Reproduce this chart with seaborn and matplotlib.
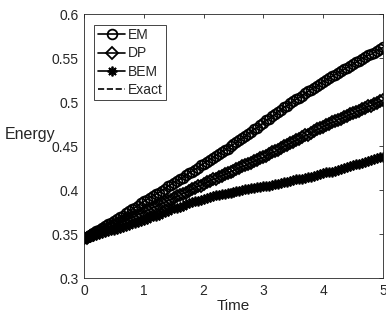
import numpy as np
import pandas as pd
import matplotlib
matplotlib.use("Agg")
import matplotlib.pyplot as plt
import seaborn as sns

# time grid (dt = 0.05)
time = [round(0.05 * i, 2) for i in range(101)]

em_energy = [
    0.345, 0.347, 0.349, 0.351, 0.353, 0.355, 0.357, 0.359, 0.361, 0.363, 0.365,
    0.367, 0.369, 0.371, 0.374, 0.376, 0.378, 0.380, 0.382, 0.385, 0.387,
    0.389, 0.391, 0.393, 0.395, 0.397, 0.399, 0.401, 0.404, 0.406, 0.408,
    0.410, 0.412, 0.414, 0.417, 0.419, 0.421, 0.423, 0.425, 0.428, 0.430,
    0.432, 0.434, 0.436, 0.439, 0.441, 0.443, 0.445, 0.447, 0.450, 0.452,
    0.454, 0.457, 0.459, 0.461, 0.464, 0.466, 0.469, 0.471, 0.474, 0.476,
    0.479, 0.481, 0.484, 0.486, 0.489, 0.491, 0.494, 0.496, 0.499, 0.501,
    0.503, 0.505, 0.507, 0.510, 0.512, 0.514, 0.516, 0.518, 0.521, 0.523,
    0.525, 0.527, 0.529, 0.531, 0.533, 0.535, 0.537, 0.539, 0.541, 0.543,
    0.545, 0.547, 0.549, 0.551, 0.553, 0.554, 0.556, 0.558, 0.560, 0.562,
]

dp_energy = [
    0.345, 0.346, 0.348, 0.349, 0.351, 0.352, 0.354, 0.355, 0.357, 0.358, 0.360,
    0.361, 0.363, 0.364, 0.366, 0.367, 0.369, 0.370, 0.372, 0.373, 0.375,
    0.377, 0.378, 0.380, 0.381, 0.383, 0.385, 0.386, 0.388, 0.389, 0.391,
    0.393, 0.394, 0.396, 0.397, 0.399, 0.401, 0.402, 0.404, 0.405, 0.407,
    0.409, 0.410, 0.412, 0.413, 0.415, 0.416, 0.418, 0.419, 0.421, 0.422,
    0.424, 0.425, 0.427, 0.428, 0.430, 0.431, 0.433, 0.434, 0.436, 0.437,
    0.439, 0.441, 0.443, 0.444, 0.446, 0.448, 0.450, 0.451, 0.453, 0.455,
    0.457, 0.458, 0.460, 0.462, 0.463, 0.465, 0.467, 0.469, 0.470, 0.472,
    0.474, 0.475, 0.477, 0.478, 0.480, 0.481, 0.483, 0.484, 0.486, 0.487,
    0.489, 0.490, 0.492, 0.493, 0.495, 0.496, 0.498, 0.499, 0.501, 0.502,
]

bem_energy = [
    0.345, 0.346, 0.347, 0.348, 0.349, 0.350, 0.351, 0.352, 0.353, 0.354, 0.355,
    0.356, 0.357, 0.358, 0.359, 0.360, 0.362, 0.363, 0.364, 0.365, 0.366,
    0.367, 0.369, 0.370, 0.371, 0.372, 0.374, 0.375, 0.376, 0.378, 0.379,
    0.380, 0.381, 0.382, 0.384, 0.385, 0.386, 0.387, 0.388, 0.389, 0.390,
    0.391, 0.392, 0.393, 0.394, 0.394, 0.395, 0.396, 0.397, 0.397, 0.398,
    0.399, 0.399, 0.400, 0.401, 0.401, 0.402, 0.402, 0.403, 0.403, 0.404,
    0.405, 0.405, 0.406, 0.407, 0.407, 0.408, 0.409, 0.409, 0.410, 0.411,
    0.412, 0.412, 0.413, 0.414, 0.415, 0.415, 0.416, 0.417, 0.418, 0.419,
    0.420, 0.421, 0.421, 0.422, 0.423, 0.424, 0.425, 0.426, 0.427, 0.428,
    0.429, 0.430, 0.431, 0.432, 0.433, 0.434, 0.435, 0.436, 0.437, 0.438,
]

# exact curve is hidden under the DP markers
exact_time = [0, 1, 2, 3, 4, 5]
exact_energy = [0.345, 0.375, 0.407, 0.437, 0.472, 0.502]

x_ticks = [0, 1, 2, 3, 4, 5]
y_ticks = [0.3, 0.35, 0.4, 0.45, 0.5, 0.55, 0.6]
y_tick_labels = ["0.3", "0.35", "0.4", "0.45", "0.5", "0.55", "0.6"]


def main():
    sns.set_style("white")
    plt.rcParams["font.family"] = ["Liberation Sans", "DejaVu Sans"]

    fig = plt.figure(figsize=(3.86, 3.22), dpi=100)
    ax = fig.add_axes([0.2176, 0.1366, 0.7746, 0.8199])

    styles = [
        ("EM", em_energy, dict(marker="o", markersize=7.0)),
        ("DP", dp_energy, dict(marker="D", markersize=6.0)),
        ("BEM", bem_energy, dict(marker=(8, 2, 0), markersize=7.0)),
    ]
    for name, vals, mk in styles:
        sns.lineplot(x=time, y=vals, ax=ax, color="black", linewidth=1.2,
                     markerfacecolor="none", markeredgecolor="black",
                     markeredgewidth=1.3, label=name, **mk)
    sns.lineplot(x=exact_time, y=exact_energy, ax=ax, color="black",
                 linewidth=1.2, linestyle="--", label="Exact")

    ax.set_xlim(0, 5)
    ax.set_ylim(0.3, 0.6)
    ax.set_xticks(x_ticks)
    ax.set_yticks(y_ticks)
    ax.set_yticklabels(y_tick_labels)
    ax.tick_params(direction="in", length=3, width=0.6, colors="#262626",
                   labelsize=10, top=True, right=True, pad=4)
    for sp in ax.spines.values():
        sp.set_color("#262626")
        sp.set_linewidth(0.6)

    ax.set_xlabel("Time", fontsize=11, color="#262626", labelpad=1)
    ax.set_ylabel("Energy", fontsize=11.5, color="#262626", rotation=0)
    ax.yaxis.set_label_coords(-0.18, 0.515)

    leg = ax.legend(loc="upper left", bbox_to_anchor=(0.02, 0.975),
                    fontsize=10, handlelength=2.0, handletextpad=0.15,
                    labelspacing=0.3, borderpad=0.25, borderaxespad=0.3,
                    frameon=True, fancybox=False, framealpha=1)
    leg.get_frame().set_edgecolor("#262626")
    leg.get_frame().set_linewidth(0.6)

    fig.savefig("out.png", dpi=100)
    plt.close(fig)


if __name__ == "__main__":
    main()
